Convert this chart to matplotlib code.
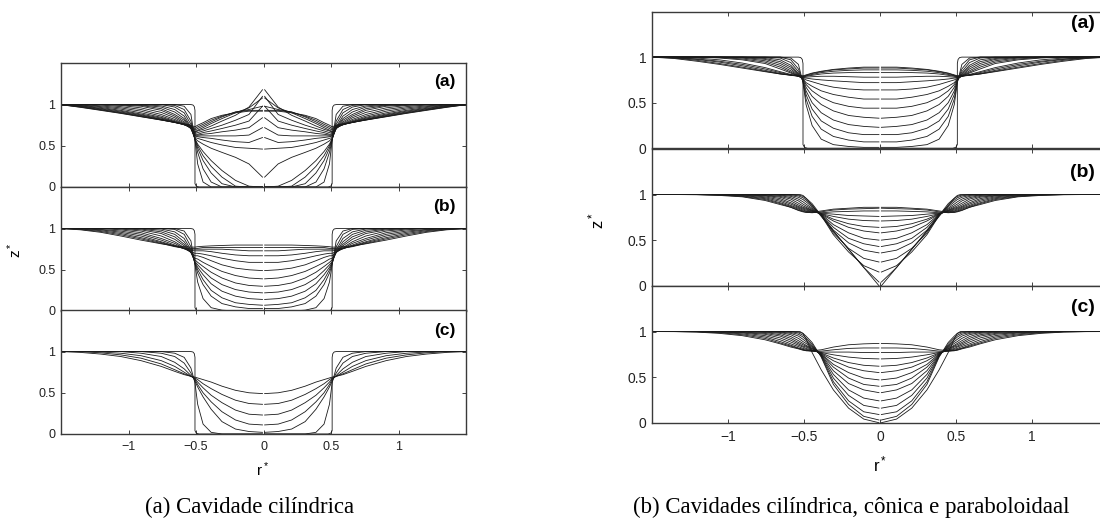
import matplotlib
matplotlib.use("Agg")
import numpy as np
import matplotlib.pyplot as plt

plt.rcParams.update({
    "font.family": "Liberation Sans", "font.size": 8,
    "axes.linewidth": 1.0, "axes.edgecolor": "#3a3a3a",
})

INK = "#1a1a1a"
LW = 0.6
GAP = 0.008   # small white gap at r = 0, as in the original

# half-profile radial grid (profiles are mirrored about r = 0)
R_GRID = [0.0, 0.1, 0.2, 0.3, 0.38, 0.44, 0.48, 0.5,
          0.53, 0.58, 0.65, 0.75, 0.9, 1.05, 1.2, 1.35, 1.5]

# initial cavity outlines (half profiles)
CYL_R = [0.0, 0.47, 0.49, 0.5, 0.5, 0.505, 0.515, 0.53, 1.5]
CYL_Z = [0.0, 0.0, 0.01, 0.04, 0.93, 0.975, 0.995, 1.0, 1.0]
CONE_R = [0.0, 0.47, 0.49, 0.5, 0.52, 1.5]
CONE_Z = [0.0, 0.94, 0.975, 0.99, 1.0, 1.0]
PARA_R = [0.0, 0.1, 0.2, 0.3, 0.38, 0.44, 0.48, 0.5, 0.52, 1.5]
PARA_Z = [0.0, 0.04, 0.16, 0.36, 0.58, 0.77, 0.92, 0.98, 1.0, 1.0]

# surface profiles z*(r*) at successive times, one row per curve
LEFT_A = [
    [0, 0, 0, 0, 0, 0.06, 0.28, 0.57, 0.88, 0.98, 1, 1, 1, 1, 1, 1, 1],
    [0, 0, 0, 0, 0.06, 0.22, 0.42, 0.57, 0.80, 0.94, 0.99, 1, 1, 1, 1, 1, 1],
    [0, 0, 0, 0.04, 0.17, 0.32, 0.47, 0.58, 0.76, 0.90, 0.97, 1, 1, 1, 1, 1, 1],
    [0, 0, 0.01, 0.12, 0.25, 0.38, 0.50, 0.58, 0.73, 0.86, 0.94, 0.985, 1, 1, 1, 1, 1],
    [0, 0.01, 0.08, 0.20, 0.32, 0.43, 0.52, 0.58, 0.72, 0.83, 0.91, 0.97, 0.995, 1, 1, 1, 1],
    [0.12, 0.28, 0.36, 0.42, 0.47, 0.52, 0.56, 0.59, 0.71, 0.81, 0.88, 0.95, 0.99, 1, 1, 1, 1],
    [0.46, 0.47, 0.48, 0.51, 0.54, 0.57, 0.59, 0.60, 0.71, 0.79, 0.86, 0.93, 0.98, 0.995, 1, 1, 1],
    [0.60, 0.54, 0.55, 0.57, 0.59, 0.60, 0.61, 0.62, 0.71, 0.775, 0.84, 0.905, 0.96, 0.99, 1, 1, 1],
    [0.72, 0.63, 0.62, 0.62, 0.62, 0.62, 0.62, 0.62, 0.71, 0.765, 0.82, 0.88, 0.94, 0.975, 0.995, 1, 1],
    [0.84, 0.72, 0.69, 0.67, 0.65, 0.64, 0.63, 0.63, 0.715, 0.76, 0.805, 0.86, 0.92, 0.96, 0.985, 1, 1],
    [0.98, 0.80, 0.75, 0.71, 0.68, 0.66, 0.64, 0.64, 0.72, 0.755, 0.795, 0.845, 0.90, 0.945, 0.975, 0.995, 1],
    [1.10, 0.88, 0.81, 0.75, 0.71, 0.68, 0.66, 0.65, 0.725, 0.755, 0.79, 0.835, 0.885, 0.93, 0.965, 0.99, 1],
    [1.18, 0.97, 0.87, 0.80, 0.74, 0.70, 0.68, 0.66, 0.73, 0.755, 0.785, 0.825, 0.875, 0.92, 0.955, 0.985, 1],
    [1.08, 0.96, 0.90, 0.83, 0.77, 0.72, 0.69, 0.67, 0.735, 0.757, 0.783, 0.82, 0.867, 0.91, 0.948, 0.98, 1],
    [0.98, 0.94, 0.91, 0.85, 0.79, 0.74, 0.71, 0.69, 0.74, 0.76, 0.782, 0.815, 0.86, 0.903, 0.94, 0.975, 1],
    [0.93, 0.93, 0.91, 0.86, 0.81, 0.76, 0.73, 0.71, 0.745, 0.763, 0.783, 0.813, 0.855, 0.897, 0.935, 0.97, 1],
    [0.92, 0.92, 0.90, 0.87, 0.83, 0.78, 0.75, 0.73, 0.75, 0.765, 0.785, 0.812, 0.852, 0.893, 0.93, 0.967, 1],
]
LEFT_B = [
    [0, 0, 0, 0.01, 0.04, 0.15, 0.35, 0.56, 0.85, 0.97, 1, 1, 1, 1, 1, 1, 1],
    [0.03, 0.03, 0.05, 0.09, 0.18, 0.32, 0.46, 0.57, 0.78, 0.93, 0.99, 1, 1, 1, 1, 1, 1],
    [0.07, 0.08, 0.10, 0.16, 0.25, 0.38, 0.50, 0.58, 0.74, 0.88, 0.96, 0.995, 1, 1, 1, 1, 1],
    [0.14, 0.15, 0.18, 0.24, 0.33, 0.44, 0.53, 0.59, 0.72, 0.84, 0.93, 0.98, 1, 1, 1, 1, 1],
    [0.22, 0.23, 0.26, 0.32, 0.40, 0.49, 0.56, 0.60, 0.71, 0.81, 0.90, 0.96, 0.995, 1, 1, 1, 1],
    [0.30, 0.31, 0.34, 0.40, 0.47, 0.54, 0.59, 0.62, 0.71, 0.79, 0.87, 0.94, 0.985, 1, 1, 1, 1],
    [0.39, 0.40, 0.43, 0.48, 0.54, 0.59, 0.63, 0.64, 0.71, 0.77, 0.84, 0.91, 0.97, 0.995, 1, 1, 1],
    [0.49, 0.50, 0.52, 0.56, 0.61, 0.65, 0.67, 0.67, 0.715, 0.76, 0.82, 0.88, 0.95, 0.985, 1, 1, 1],
    [0.59, 0.59, 0.61, 0.64, 0.67, 0.69, 0.70, 0.70, 0.72, 0.755, 0.80, 0.86, 0.93, 0.97, 0.99, 1, 1],
    [0.67, 0.67, 0.68, 0.70, 0.72, 0.73, 0.73, 0.73, 0.735, 0.755, 0.79, 0.84, 0.91, 0.955, 0.985, 1, 1],
    [0.73, 0.73, 0.74, 0.75, 0.75, 0.75, 0.75, 0.75, 0.75, 0.76, 0.785, 0.83, 0.89, 0.94, 0.975, 0.995, 1],
    [0.77, 0.77, 0.77, 0.77, 0.77, 0.77, 0.76, 0.76, 0.76, 0.765, 0.78, 0.82, 0.875, 0.925, 0.965, 0.99, 1],
    [0.80, 0.80, 0.80, 0.795, 0.79, 0.785, 0.78, 0.775, 0.775, 0.78, 0.79, 0.815, 0.86, 0.91, 0.955, 0.985, 1],
]
LEFT_C = [
    [0, 0, 0, 0, 0.02, 0.12, 0.36, 0.62, 0.80, 0.93, 0.98, 1, 1, 1, 1, 1, 1],
    [0.02, 0.03, 0.06, 0.15, 0.30, 0.45, 0.57, 0.64, 0.74, 0.86, 0.94, 0.98, 1, 1, 1, 1, 1],
    [0.11, 0.12, 0.17, 0.27, 0.39, 0.50, 0.60, 0.66, 0.71, 0.79, 0.87, 0.94, 0.98, 1, 1, 1, 1],
    [0.23, 0.24, 0.29, 0.38, 0.47, 0.56, 0.63, 0.67, 0.70, 0.75, 0.82, 0.89, 0.95, 0.98, 0.995, 1, 1],
    [0.36, 0.37, 0.41, 0.48, 0.55, 0.61, 0.66, 0.68, 0.70, 0.73, 0.78, 0.85, 0.92, 0.96, 0.985, 1, 1],
    [0.49, 0.50, 0.53, 0.58, 0.63, 0.66, 0.68, 0.69, 0.70, 0.72, 0.76, 0.82, 0.89, 0.94, 0.97, 0.99, 1],
]
RIGHT_A = [
    [0.01, 0.01, 0.02, 0.04, 0.10, 0.25, 0.48, 0.72, 0.92, 0.99, 1, 1, 1, 1, 1, 1, 1],
    [0.07, 0.07, 0.09, 0.13, 0.21, 0.35, 0.54, 0.73, 0.87, 0.97, 1, 1, 1, 1, 1, 1, 1],
    [0.15, 0.15, 0.17, 0.22, 0.30, 0.43, 0.59, 0.74, 0.84, 0.94, 0.99, 1, 1, 1, 1, 1, 1],
    [0.23, 0.24, 0.26, 0.31, 0.39, 0.50, 0.63, 0.745, 0.82, 0.91, 0.97, 0.995, 1, 1, 1, 1, 1],
    [0.33, 0.34, 0.36, 0.41, 0.48, 0.57, 0.67, 0.75, 0.81, 0.89, 0.95, 0.985, 1, 1, 1, 1, 1],
    [0.44, 0.44, 0.46, 0.50, 0.56, 0.63, 0.70, 0.755, 0.80, 0.87, 0.93, 0.975, 0.995, 1, 1, 1, 1],
    [0.54, 0.54, 0.56, 0.59, 0.63, 0.68, 0.72, 0.76, 0.795, 0.85, 0.91, 0.96, 0.99, 1, 1, 1, 1],
    [0.64, 0.64, 0.65, 0.67, 0.70, 0.73, 0.75, 0.765, 0.79, 0.835, 0.89, 0.945, 0.98, 0.995, 1, 1, 1],
    [0.72, 0.72, 0.73, 0.74, 0.75, 0.76, 0.77, 0.77, 0.79, 0.825, 0.87, 0.93, 0.97, 0.99, 1, 1, 1],
    [0.78, 0.78, 0.785, 0.79, 0.79, 0.785, 0.78, 0.775, 0.79, 0.81, 0.84, 0.885, 0.935, 0.97, 0.99, 1, 1],
    [0.83, 0.83, 0.83, 0.825, 0.815, 0.80, 0.79, 0.78, 0.79, 0.805, 0.83, 0.87, 0.92, 0.955, 0.98, 0.995, 1],
    [0.86, 0.86, 0.855, 0.845, 0.83, 0.81, 0.795, 0.785, 0.79, 0.80, 0.82, 0.855, 0.905, 0.945, 0.975, 0.993, 1],
    [0.88, 0.88, 0.87, 0.86, 0.84, 0.82, 0.80, 0.79, 0.795, 0.80, 0.815, 0.845, 0.89, 0.93, 0.965, 0.99, 1],
    [0.89, 0.89, 0.88, 0.865, 0.845, 0.825, 0.805, 0.795, 0.80, 0.805, 0.815, 0.84, 0.88, 0.92, 0.955, 0.985, 1],
]
RIGHT_B = [
    [0.04, 0.20, 0.40, 0.60, 0.77, 0.90, 0.96, 0.98, 0.995, 1, 1, 1, 1, 1, 1, 1, 1],
    [0.15, 0.22, 0.37, 0.56, 0.77, 0.88, 0.94, 0.965, 0.985, 0.998, 1, 1, 1, 1, 1, 1, 1],
    [0.26, 0.30, 0.41, 0.58, 0.775, 0.865, 0.92, 0.945, 0.97, 0.99, 1, 1, 1, 1, 1, 1, 1],
    [0.36, 0.39, 0.47, 0.61, 0.78, 0.85, 0.895, 0.92, 0.95, 0.98, 0.995, 1, 1, 1, 1, 1, 1],
    [0.43, 0.46, 0.52, 0.64, 0.78, 0.84, 0.875, 0.895, 0.93, 0.965, 0.99, 1, 1, 1, 1, 1, 1],
    [0.50, 0.52, 0.58, 0.67, 0.785, 0.83, 0.86, 0.875, 0.905, 0.95, 0.98, 0.995, 1, 1, 1, 1, 1],
    [0.58, 0.60, 0.64, 0.71, 0.785, 0.825, 0.85, 0.86, 0.885, 0.93, 0.97, 0.99, 1, 1, 1, 1, 1],
    [0.64, 0.65, 0.68, 0.73, 0.79, 0.82, 0.84, 0.85, 0.87, 0.91, 0.955, 0.985, 0.998, 1, 1, 1, 1],
    [0.71, 0.715, 0.73, 0.76, 0.79, 0.815, 0.83, 0.84, 0.86, 0.895, 0.94, 0.975, 0.995, 1, 1, 1, 1],
    [0.76, 0.765, 0.77, 0.785, 0.795, 0.81, 0.82, 0.83, 0.85, 0.88, 0.925, 0.965, 0.99, 0.998, 1, 1, 1],
    [0.82, 0.82, 0.815, 0.81, 0.80, 0.805, 0.815, 0.82, 0.84, 0.87, 0.91, 0.955, 0.985, 0.996, 1, 1, 1],
    [0.85, 0.845, 0.84, 0.83, 0.81, 0.80, 0.805, 0.815, 0.83, 0.86, 0.90, 0.945, 0.98, 0.994, 0.999, 1, 1],
    [0.86, 0.86, 0.85, 0.84, 0.82, 0.805, 0.805, 0.81, 0.825, 0.86, 0.89, 0.935, 0.975, 0.99, 0.998, 1, 1],
]
RIGHT_C = [
    [0.03, 0.07, 0.20, 0.42, 0.72, 0.88, 0.95, 0.98, 0.995, 1, 1, 1, 1, 1, 1, 1, 1],
    [0.09, 0.12, 0.24, 0.45, 0.73, 0.86, 0.93, 0.96, 0.985, 0.998, 1, 1, 1, 1, 1, 1, 1],
    [0.16, 0.19, 0.30, 0.49, 0.735, 0.845, 0.91, 0.94, 0.97, 0.99, 1, 1, 1, 1, 1, 1, 1],
    [0.24, 0.27, 0.36, 0.53, 0.74, 0.835, 0.89, 0.915, 0.95, 0.98, 0.995, 1, 1, 1, 1, 1, 1],
    [0.33, 0.36, 0.43, 0.57, 0.745, 0.825, 0.87, 0.89, 0.925, 0.965, 0.99, 1, 1, 1, 1, 1, 1],
    [0.40, 0.42, 0.49, 0.61, 0.75, 0.815, 0.85, 0.87, 0.90, 0.945, 0.98, 0.995, 1, 1, 1, 1, 1],
    [0.47, 0.49, 0.55, 0.64, 0.755, 0.81, 0.84, 0.855, 0.88, 0.925, 0.965, 0.99, 0.998, 1, 1, 1, 1],
    [0.55, 0.57, 0.61, 0.68, 0.76, 0.80, 0.83, 0.84, 0.865, 0.905, 0.95, 0.98, 0.995, 1, 1, 1, 1],
    [0.62, 0.63, 0.66, 0.71, 0.765, 0.795, 0.815, 0.83, 0.85, 0.885, 0.93, 0.97, 0.99, 0.998, 1, 1, 1],
    [0.70, 0.705, 0.72, 0.745, 0.77, 0.79, 0.805, 0.815, 0.835, 0.865, 0.91, 0.955, 0.985, 0.996, 1, 1, 1],
    [0.77, 0.77, 0.775, 0.775, 0.775, 0.785, 0.795, 0.805, 0.82, 0.85, 0.89, 0.94, 0.975, 0.992, 0.999, 1, 1],
    [0.82, 0.82, 0.815, 0.80, 0.785, 0.785, 0.79, 0.80, 0.815, 0.84, 0.875, 0.925, 0.965, 0.987, 0.997, 1, 1],
    [0.87, 0.865, 0.855, 0.83, 0.80, 0.79, 0.79, 0.795, 0.81, 0.83, 0.865, 0.91, 0.955, 0.98, 0.994, 0.999, 1],
]

X_TICKS = [-1, -0.5, 0, 0.5, 1]
Y_TICKS = [0, 0.5, 1]
Y_TICK_LABELS = ["0", "0.5", "1"]
X_TICK_LABELS = ["\u22121", "\u22120.5", "0", "0.5", "1"]
PANEL_LABELS = ["(a)", "(b)", "(c)"]

fig = plt.figure(figsize=(11, 5.19), dpi=100)


def draw_panel(ax, rows, wall_r, wall_z, fs):
    r = np.asarray(R_GRID) + GAP
    for z in rows:
        ax.plot(r, z, color=INK, lw=LW)
        ax.plot(-r, z, color=INK, lw=LW)
    wr = np.asarray(wall_r) + GAP
    ax.plot(wr, wall_z, color=INK, lw=LW)
    ax.plot(-wr, wall_z, color=INK, lw=LW)
    ax.set_xlim(-1.5, 1.5)
    ax.set_ylim(0, 1.5)
    ax.set_xticks(X_TICKS)
    ax.set_yticks(Y_TICKS)
    ax.set_yticklabels(Y_TICK_LABELS)
    ax.tick_params(direction="in", top=True, right=True, length=3,
                   width=0.6, labelsize=fs, pad=4, colors="#222222")


# left group: cylindrical cavity, three cases
left_rows = [LEFT_A, LEFT_B, LEFT_C]
left_bottoms = [0.6397, 0.4008, 0.1638]
left_lab_y = [0.851, 0.843, 0.841]
for i, rows in enumerate(left_rows):
    ax = fig.add_axes([0.0555, left_bottoms[i], 0.3682, 0.2382])
    draw_panel(ax, rows, CYL_R, CYL_Z, 9)
    ax.text(0.973, left_lab_y[i], PANEL_LABELS[i], transform=ax.transAxes,
            ha="right", va="center", fontsize=12.5, fontweight="bold")
    if i < 2:
        ax.tick_params(labelbottom=False)
    else:
        ax.set_xticklabels(X_TICK_LABELS)
        ax.tick_params(axis="x", pad=5)

# right group: cylindrical, conical, paraboloidal cavities
right_rows = [RIGHT_A, RIGHT_B, RIGHT_C]
right_walls = [(CYL_R, CYL_Z), (CONE_R, CONE_Z), (PARA_R, PARA_Z)]
right_bottoms = [0.7143, 0.4495, 0.1855]
right_lab_y = [0.913, 0.83, 0.845]
for i, rows in enumerate(right_rows):
    ax = fig.add_axes([0.593, right_bottoms[i], 0.4143, 0.2635])
    draw_panel(ax, rows, right_walls[i][0], right_walls[i][1], 10)
    ax.text(0.9715, right_lab_y[i], PANEL_LABELS[i], transform=ax.transAxes,
            ha="right", va="center", fontsize=14, fontweight="bold")
    if i < 2:
        ax.tick_params(labelbottom=False)
    else:
        ax.set_xticklabels(X_TICK_LABELS)
        ax.tick_params(axis="x", pad=5)

# axis labels
fig.text(15 / 1100, 1 - 250 / 519, r"$\mathregular{z^*}$", rotation=90,
         ha="center", va="center", fontsize=11)
fig.text(596 / 1100, 1 - 220 / 519, r"$\mathregular{z^*}$", rotation=90,
         ha="center", va="center", fontsize=12)
fig.text(263 / 1100, 1 - 470 / 519, r"$\mathregular{r^*}$",
         ha="center", va="center", fontsize=11)
fig.text(880 / 1100, 1 - 464 / 519, r"$\mathregular{r^*}$",
         ha="center", va="center", fontsize=12)

# sub-figure captions
fig.text(250 / 1100, 1 - 507 / 519, "(a) Cavidade cilíndrica",
         ha="center", va="center", fontsize=16.5, family="Liberation Serif")
fig.text(851 / 1100, 1 - 507 / 519, "(b) Cavidades cilíndrica, cônica e paraboloidaal",
         ha="center", va="center", fontsize=16.5, family="Liberation Serif")

fig.savefig("out.png", dpi=100)
